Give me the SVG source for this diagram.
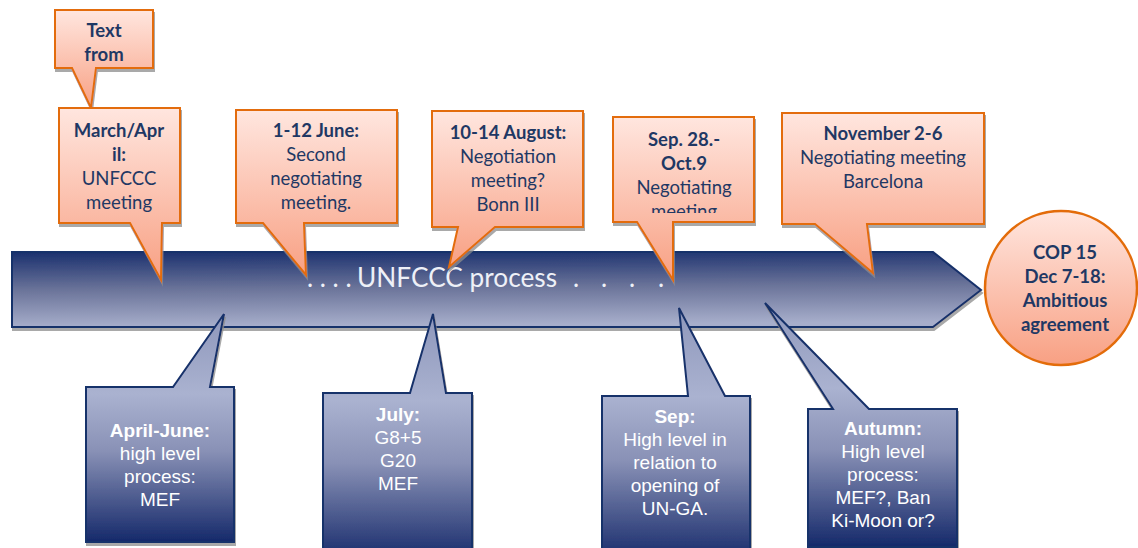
<svg xmlns="http://www.w3.org/2000/svg" width="1138" height="548" viewBox="0 0 1138 548">
  <defs>
    <linearGradient id="salmon" x1="0" y1="0" x2="0" y2="1">
      <stop offset="0" stop-color="#FFE6DF"/>
      <stop offset="1" stop-color="#F8A083"/>
    </linearGradient>
    <linearGradient id="navyDown" x1="0" y1="0" x2="0" y2="1">
      <stop offset="0" stop-color="#8E97BB"/>
      <stop offset="0.35" stop-color="#AAB2D0"/>
      <stop offset="0.6" stop-color="#8991B6"/>
      <stop offset="1" stop-color="#15296A"/>
    </linearGradient>
    <linearGradient id="bar" x1="0" y1="0" x2="0.08" y2="1">
      <stop offset="0" stop-color="#1A306E"/>
      <stop offset="0.5" stop-color="#6A7399"/>
      <stop offset="1" stop-color="#A7AECB"/>
    </linearGradient>
    <filter id="shadow" x="-5%" y="-5%" width="115%" height="115%">
      <feOffset in="SourceAlpha" dx="1" dy="3" result="off"/>
      <feFlood flood-color="#8c8c8c" flood-opacity="0.75"/>
      <feComposite in2="off" operator="in" result="sh"/>
      <feMerge>
        <feMergeNode in="sh"/>
        <feMergeNode in="SourceGraphic"/>
      </feMerge>
    </filter>
    <clipPath id="clipSep28">
      <rect x="613" y="117" width="141" height="96"/>
    </clipPath>
  </defs>
  <style>
    .up { fill: url(#salmon); stroke: #E36C0A; stroke-width: 2; stroke-linejoin: miter; filter: url(#shadow); }
    .down { fill: url(#navyDown); stroke: #17306A; stroke-width: 2; filter: url(#shadow); }
    .ut { font-family: Lato, "Liberation Sans", sans-serif; font-size: 18.5px; fill: #1F3864; text-anchor: middle; }
    .b { font-weight: bold; }
    .dt { font-family: "Liberation Sans", Arial, sans-serif; font-size: 19px; fill: #FFFFFF; text-anchor: middle; }
    .bt { font-family: Lato, "Liberation Sans", sans-serif; font-size: 26px; fill: #EEF0F7; }
  </style>

  <!-- timeline arrow -->
  <g id="timeline">
    <path d="M12,252 H933 L981,290 L933,327 H12 Z" fill="url(#bar)" stroke="#17306A" stroke-width="2" filter="url(#shadow)"/>
    <text class="bt" x="307" y="287">. . . .</text>
    <text class="bt" x="357" y="287" textLength="200" lengthAdjust="spacingAndGlyphs">UNFCCC process</text>
    <text class="bt" x="573" y="287">.</text>
    <text class="bt" x="601" y="287">.</text>
    <text class="bt" x="629" y="287">.</text>
    <text class="bt" x="658" y="287">.</text>
  </g>

  <g id="connectors"></g>

  <!-- upper callouts: UNFCCC meetings -->
  <g id="text-from">
    <path class="up" d="M55,10 H153 V68 H96 L91,108 L72,68 H55 Z"/>
    <text class="ut b" x="104" y="37">Text</text>
    <text class="ut b" x="104" y="61">from</text>
  </g>

  <g id="march-april">
    <path class="up" d="M59,108 H180 V223 H162 L161,280 L130,223 H59 Z"/>
    <text class="ut b" x="119" y="137">March/Apr</text>
    <text class="ut b" x="119" y="161">il:</text>
    <text class="ut" x="119" y="185">UNFCCC</text>
    <text class="ut" x="119" y="209">meeting</text>
  </g>

  <g id="june">
    <path class="up" d="M236,110 H397 V223 H304 L306,275 L263,223 H236 Z"/>
    <text class="ut b" x="316" y="137">1-12 June:</text>
    <text class="ut" x="316" y="161">Second</text>
    <text class="ut" x="316" y="185">negotiating</text>
    <text class="ut" x="316" y="209">meeting.</text>
  </g>

  <g id="august">
    <path class="up" d="M432,111 H583 V227 H495 L449,267 L458,227 H432 Z"/>
    <text class="ut b" x="508" y="139">10-14 August:</text>
    <text class="ut" x="508" y="163">Negotiation</text>
    <text class="ut" x="508" y="187">meeting?</text>
    <text class="ut" x="508" y="211">Bonn III</text>
  </g>

  <g id="sep-oct">
    <path class="up" d="M613,117 H754 V222 H673 L673,280 L637,222 H613 Z"/>
    <g clip-path="url(#clipSep28)">
      <text class="ut b" x="684" y="146">Sep. 28.-</text>
      <text class="ut b" x="684" y="170">Oct.9</text>
      <text class="ut" x="684" y="194">Negotiating</text>
      <text class="ut" x="684" y="218">meeting</text>
    </g>
  </g>

  <g id="november">
    <path class="up" d="M782,113 H984 V224 H867 L873,273 L815,224 H782 Z"/>
    <text class="ut b" x="883" y="140">November 2-6</text>
    <text class="ut" x="883" y="164">Negotiating meeting</text>
    <text class="ut" x="883" y="188">Barcelona</text>
  </g>

  <g id="cop15">
    <ellipse cx="1061" cy="288" rx="76" ry="77" fill="url(#salmon)" stroke="#E36C0A" stroke-width="2.5"/>
    <text class="ut b" x="1065" y="259">COP 15</text>
    <text class="ut b" x="1065" y="283">Dec 7-18:</text>
    <text class="ut b" x="1065" y="307">Ambitious</text>
    <text class="ut b" x="1065" y="331">agreement</text>
  </g>

  <!-- lower callouts: high level process -->
  <g id="april-june">
    <path class="down" d="M86,387 H173 L224,314 L210,387 H234 V542 H86 Z"/>
    <text class="dt b" x="160" y="437">April-June:</text>
    <text class="dt" x="160" y="460">high level</text>
    <text class="dt" x="160" y="483">process:</text>
    <text class="dt" x="160" y="506">MEF</text>
  </g>

  <g id="july">
    <path class="down" d="M323,393 H410 L433,314 L446,393 H472 V562 H323 Z"/>
    <text class="dt b" x="398" y="421">July:</text>
    <text class="dt" x="398" y="444">G8+5</text>
    <text class="dt" x="398" y="467">G20</text>
    <text class="dt" x="398" y="490">MEF</text>
  </g>

  <g id="september">
    <path class="down" d="M602,396 H688 L679,308 L725,396 H750 V562 H602 Z"/>
    <text class="dt b" x="675" y="423">Sep:</text>
    <text class="dt" x="675" y="446">High level in</text>
    <text class="dt" x="675" y="469">relation to</text>
    <text class="dt" x="675" y="492">opening of</text>
    <text class="dt" x="675" y="515">UN-GA.</text>
  </g>

  <g id="autumn">
    <path class="down" d="M808,409 H833 L765,303 L869,409 H957 V547 H808 Z"/>
    <text class="dt b" x="883" y="435">Autumn:</text>
    <text class="dt" x="883" y="458">High level</text>
    <text class="dt" x="883" y="481">process:</text>
    <text class="dt" x="883" y="504">MEF?, Ban</text>
    <text class="dt" x="883" y="527">Ki-Moon or?</text>
  </g>
</svg>
